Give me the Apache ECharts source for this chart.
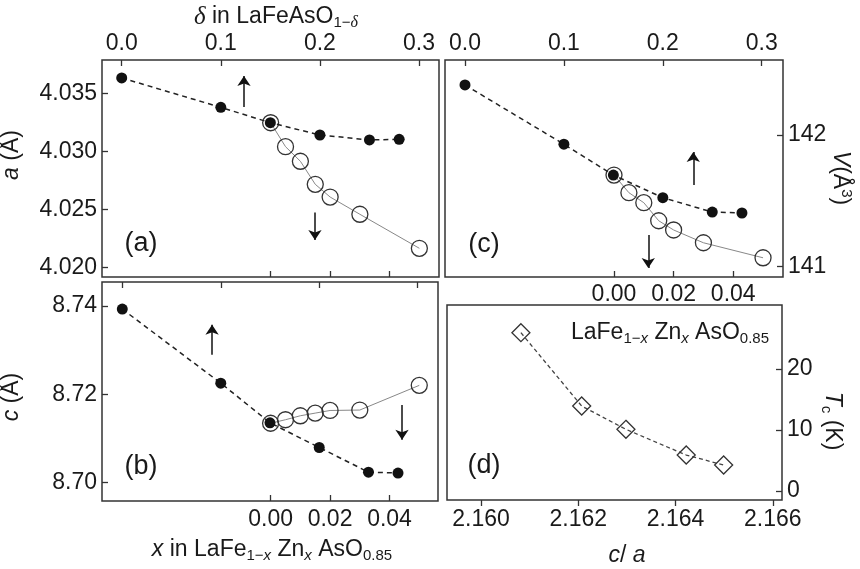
<!DOCTYPE html>
<html style="height: 100%">
<head>
<meta charset="utf-8">
<script src="https://cdn.jsdelivr.net/npm/echarts@6/dist/echarts.min.js"></script>
</head>
<body style="height: 100%; margin: 0; background: #fff">
<div id="container" style="width: 860px; height: 569px"></div>
<script type="text/javascript">
// oxygen deficiency (top axis) and Zn content (bottom axis)
var deltaX = [0, 0.1, 0.15, 0.2, 0.25, 0.28];
var znX = [0, 0.005, 0.01, 0.015, 0.02, 0.03, 0.05];

// lattice parameters
var aDelta = [4.03636, 4.03382, 4.03249, 4.03143, 4.03100, 4.03106];
var aZn = [4.03249, 4.03042, 4.02916, 4.02717, 4.02607, 4.02458, 4.02164];
var cDelta = [8.7393, 8.7225, 8.7135, 8.7079, 8.7023, 8.7021];
var cZn = [8.7134, 8.7142, 8.7151, 8.7157, 8.7163, 8.7164, 8.7220];
var vDelta = [142.38, 141.93, 141.696, 141.524, 141.415, 141.408];
var vZn = [141.696, 141.562, 141.486, 141.349, 141.279, 141.182, 141.068];

// Tc vs c/a
var caVals = [2.16082, 2.16207, 2.16298, 2.16422, 2.16499];
var tcVals = [25.95, 13.93, 10.11, 5.9, 4.26];

// tick labels
var deltaTicks = [0, 0.1, 0.2, 0.3];
var znTicks = [0, 0.02, 0.04];
var aTicks = [4.020, 4.025, 4.030, 4.035];
var cTicks = [8.70, 8.72, 8.74];
var vTicks = [141, 142];
var caTicks = [2.160, 2.162, 2.164, 2.166];
var tcTicks = [0, 10, 20];

var AX = '#333', TX = '#1a1a1a';
var FONT = '"Liberation Sans", Arial, sans-serif';
var FS = 23;

function pair(xs, ys) {
    return xs.map(function (x, i) { return [x, ys[i]]; });
}

function axis(o) {
    return {
        type: 'value', gridIndex: o.grid, position: o.pos, min: o.min, max: o.max,
        axisLine: {show: false, onZero: false},
        splitLine: {show: false},
        axisTick: {
            show: !!o.ticks, inside: !o.outside, length: 6, customValues: o.ticks,
            lineStyle: {color: AX, width: 1.3}
        },
        axisLabel: {
            show: !!o.labels, customValues: o.labels, margin: o.margin || 5,
            color: TX, fontSize: FS, fontFamily: FONT,
            formatter: function (v) { return v.toFixed(o.dec); }
        }
    };
}

function arrow(x, y1, y2) {
    return {
        silent: true, animation: false,
        symbol: ['none', 'arrow'], symbolSize: 10,
        label: {show: false},
        emphasis: {disabled: true},
        lineStyle: {color: '#111', width: 1.5, type: 'solid'},
        data: [[{coord: [x, y1]}, {coord: [x, y2]}]]
    };
}

function filled(xi, yi, data, mark) {
    return {
        type: 'line', xAxisIndex: xi, yAxisIndex: yi, data: data, z: 4,
        symbol: 'circle', symbolSize: 11,
        itemStyle: {color: '#111'},
        lineStyle: {color: '#222', width: 1.5, type: [5, 4]},
        markLine: mark
    };
}

function open(xi, yi, data, mark) {
    return {
        type: 'line', xAxisIndex: xi, yAxisIndex: yi, data: data, z: 3,
        symbol: 'circle', symbolSize: 16,
        itemStyle: {color: 'rgba(255,255,255,0)', borderColor: '#333', borderWidth: 1.3},
        lineStyle: {color: '#888', width: 1},
        markLine: mark
    };
}

var rich = {
    n: {fontSize: FS, fontFamily: FONT, color: TX},
    i: {fontSize: FS, fontFamily: FONT, fontStyle: 'italic', color: TX},
    d: {fontSize: 25, fontFamily: '"Liberation Serif", serif', fontStyle: 'italic', color: TX},
    s: {fontSize: 15, fontFamily: FONT, color: TX, padding: [12, 0, 0, 0]},
    si: {fontSize: 15, fontFamily: FONT, fontStyle: 'italic', color: TX, padding: [12, 0, 0, 0]},
    sd: {fontSize: 16, fontFamily: '"Liberation Serif", serif', fontStyle: 'italic', color: TX, padding: [12, 0, 0, 0]},
    sup: {fontSize: 15, fontFamily: FONT, color: TX, padding: [0, 0, 12, 0]},
    p: {fontSize: 27, fontFamily: FONT, color: TX}
};

function label(x, y, text, rot) {
    return {
        type: 'text', x: x, y: y, rotation: rot || 0, silent: true,
        style: {
            text: text, rich: rich, fill: TX, fontSize: FS, fontFamily: FONT,
            align: 'center', verticalAlign: 'middle',
            textAlign: 'center', textVerticalAlign: 'middle'
        }
    };
}

var dom = document.getElementById('container');
var myChart = echarts.init(dom, null, {renderer: 'canvas'});

var gridStyle = {show: true, borderColor: AX, borderWidth: 1.5, backgroundColor: 'transparent', containLabel: false};

var option = {
    animation: false,
    backgroundColor: '#fff',
    grid: [
        Object.assign({left: 102, top: 60, width: 337, height: 217}, gridStyle),
        Object.assign({left: 102, top: 282, width: 336, height: 219}, gridStyle),
        Object.assign({left: 445, top: 60, width: 338, height: 217}, gridStyle),
        Object.assign({left: 447, top: 305, width: 335, height: 195}, gridStyle)
    ],
    xAxis: [
        axis({grid: 0, pos: 'top', min: -0.0199, max: 0.3202, ticks: deltaTicks, labels: deltaTicks, dec: 1, margin: 5}),
        axis({grid: 0, pos: 'bottom', min: -0.0567, max: 0.0566, ticks: znTicks}),
        axis({grid: 1, pos: 'top', min: -0.0206, max: 0.3206, ticks: deltaTicks}),
        axis({grid: 1, pos: 'bottom', min: -0.0567, max: 0.0563, ticks: znTicks, labels: znTicks, dec: 2, margin: 7}),
        axis({grid: 2, pos: 'top', min: -0.0202, max: 0.3215, ticks: deltaTicks, labels: deltaTicks, dec: 1, margin: 5}),
        axis({grid: 2, pos: 'bottom', min: -0.0567, max: 0.0567, ticks: znTicks, labels: znTicks, dec: 2, margin: 6}),
        axis({grid: 3, pos: 'bottom', min: 2.1593, max: 2.16619, ticks: caTicks, labels: caTicks, dec: 3, margin: 8, outside: true})
    ],
    yAxis: [
        axis({grid: 0, pos: 'left', min: 4.01916, max: 4.03791, ticks: aTicks, labels: aTicks, dec: 3}),
        axis({grid: 1, pos: 'left', min: 8.69576, max: 8.74545, ticks: cTicks, labels: cTicks, dec: 2}),
        axis({grid: 2, pos: 'right', min: 140.922, max: 142.5695, ticks: vTicks, labels: vTicks, dec: 0}),
        axis({grid: 3, pos: 'right', min: -1.475, max: 30.49, ticks: tcTicks, labels: tcTicks, dec: 0})
    ],
    series: [
        open(1, 0, pair(znX, aZn), arrow(0.0149, 4.02474, 4.02236)),
        filled(0, 0, pair(deltaX, aDelta), arrow(0.1234, 4.03385, 4.03653)),
        open(3, 1, pair(znX, cZn), arrow(0.0442, 8.71757, 8.70963)),
        filled(2, 1, pair(deltaX, cDelta), arrow(0.0912, 8.72892, 8.73573)),
        open(5, 2, pair(znX, vZn), arrow(0.0115, 141.241, 140.990)),
        filled(4, 2, pair(deltaX, vDelta), arrow(0.2308, 141.620, 141.871)),
        {
            type: 'line', xAxisIndex: 6, yAxisIndex: 3, data: pair(caVals, tcVals),
            symbol: 'diamond', symbolSize: 18,
            itemStyle: {color: 'rgba(255,255,255,0)', borderColor: '#333', borderWidth: 1.3},
            lineStyle: {color: '#444', width: 1.3, type: [4, 3]}
        }
    ],
    graphic: [
        label(276, 17, '{d|δ}{n| in LaFeAsO}{s|1−}{sd|δ}'),
        label(12, 155, '{i|a}{n| (Å)}', Math.PI / 2),
        label(12, 397, '{i|c}{n| (Å)}', Math.PI / 2),
        label(272, 550, '{i|x}{n| in LaFe}{s|1−}{si|x}{n| Zn}{si|x}{n| AsO}{s|0.85}'),
        label(840, 178, '{i|V}{n|(Å}{sup|3}{n|)}', -Math.PI / 2),
        label(832, 421, '{i|T}{s|c}{n| (K)}', -Math.PI / 2),
        label(627, 556, '{i|c}{n|/ }{i|a}'),
        label(670, 333, '{n|LaFe}{s|1−}{si|x}{n| Zn}{si|x}{n| AsO}{s|0.85}'),
        label(141, 244, '{p|(a)}'),
        label(141, 467, '{p|(b)}'),
        label(484, 245, '{p|(c)}'),
        label(484, 466, '{p|(d)}')
    ]
};

myChart.setOption(option);
window.onresize = myChart.resize;
</script>
</body>
</html>
